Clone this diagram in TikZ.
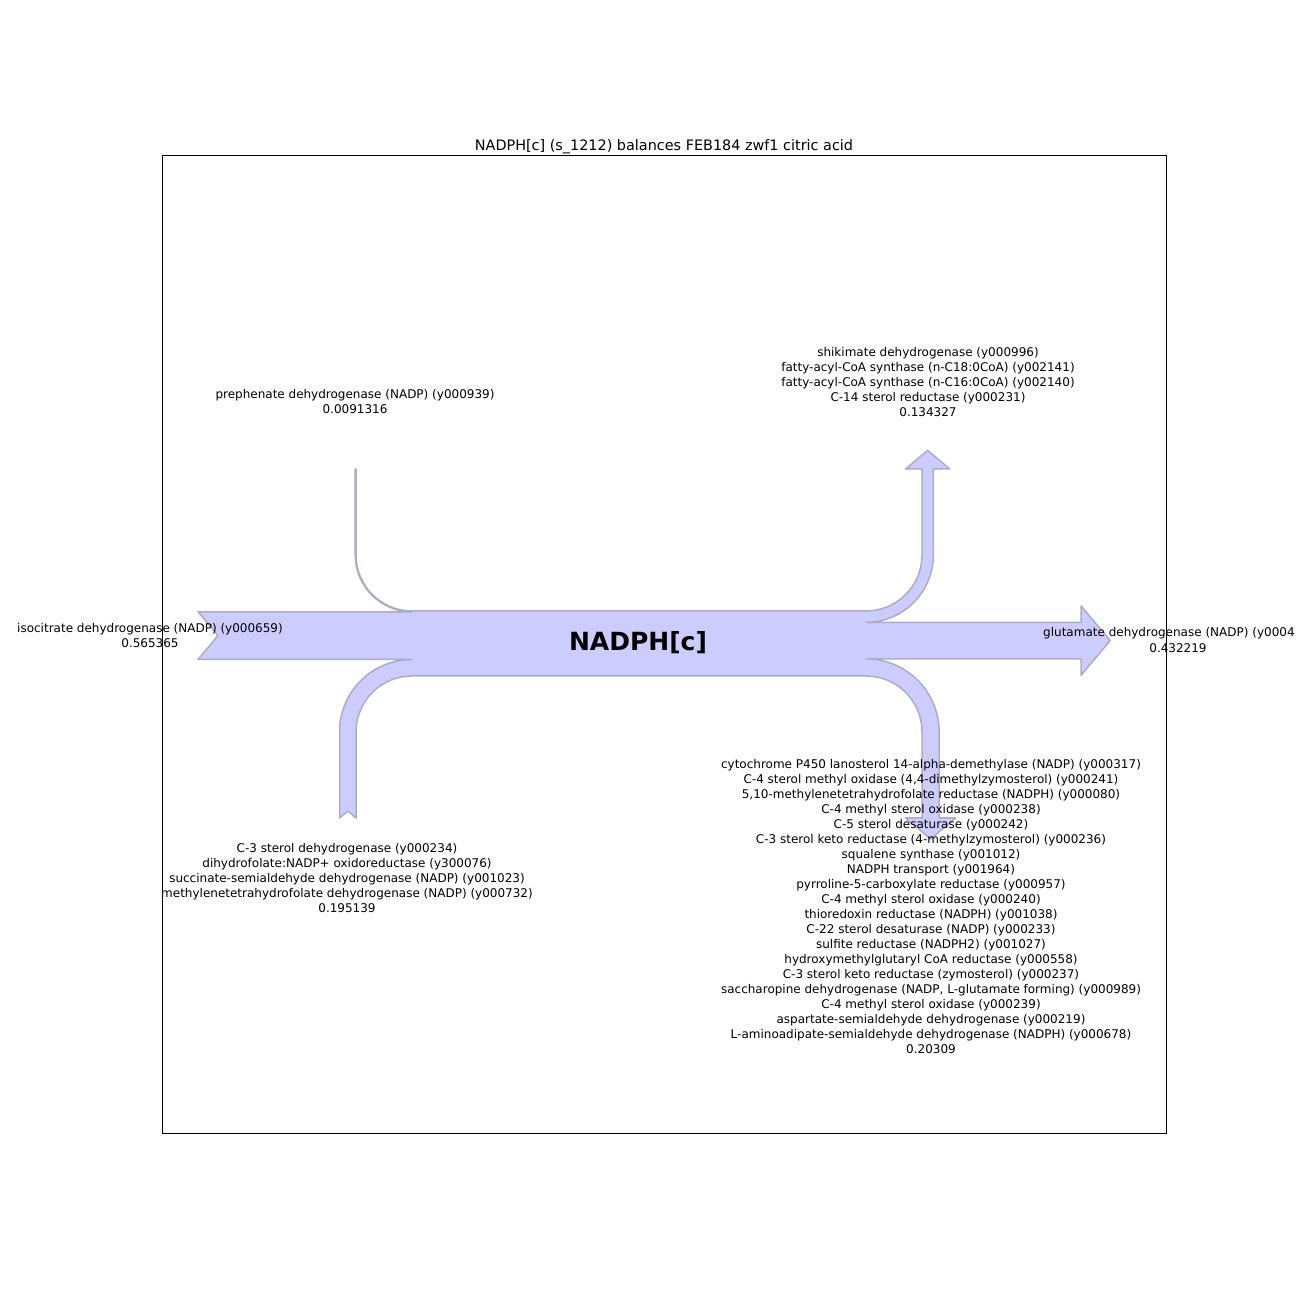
\documentclass[tikz,border=0pt]{standalone}
\usepackage{xcolor}
\usepackage{fontspec}
\setmainfont{DejaVu Sans}
\usepackage{tikz}

\definecolor{flowfill}{RGB}{204,204,255}
\definecolor{flowedge}{RGB}{172,172,198}
\tikzset{flowlabel/.style={align=center,inner sep=0pt,font=\fontsize{12}{15}\selectfont}}

\begin{document}
\begin{tikzpicture}[x=1pt,y=1pt]
\useasboundingbox (0,0) rectangle (1296,1296);
\draw[flowedge,fill=flowfill,line width=1.5pt,line join=round] (198,684.23) -- (412,684.23) arc(270:180:56.77) -- (355.23,827) -- (355.61,826.7) -- (356,827) -- (356,741) arc(180:270:56) -- (866,685) arc(270:360:56) -- (922,827) -- (905.5,827) -- (927.68,845.6) -- (949.85,827) -- (933.35,827) -- (933.35,741) arc(0:-90:67.35) -- (1081,673.65) -- (1081,690.15) -- (1110.2,655.4) -- (1081,620.65) -- (1081,637.15) -- (866,637.15) arc(90:0:73.15) -- (939.15,478) -- (955.7,478) -- (930.58,456.95) -- (905.45,478) -- (922,478) -- (922,564) arc(0:90:56) -- (412,620) arc(90:180:56) -- (356,478) -- (347.75,484.9) -- (339.5,478) -- (339.5,564) arc(180:90:72.5) -- (198,636.5) -- (218,660.37) -- cycle;
\node[inner sep=0pt,anchor=base,font=\fontsize{14.4}{18}\selectfont] (title) at (664,1145.5) {NADPH[c] (s\_1212) balances FEB184 zwf1 citric acid};
\node[inner sep=0pt,font=\fontsize{25}{30}\selectfont\bfseries] (met) at (638,653) {NADPH[c]};
\node[flowlabel] (isocit) at (150,660.5) {isocitrate dehydrogenase (NADP) (y000659)\\0.565365};
\node[flowlabel] (prephen) at (355,894.5) {prephenate dehydrogenase (NADP) (y000939)\\0.0091316};
\node[flowlabel] (shikim) at (928,914) {shikimate dehydrogenase (y000996)\\fatty-acyl-CoA synthase (n-C18:0CoA) (y002141)\\fatty-acyl-CoA synthase (n-C16:0CoA) (y002140)\\C-14 sterol reductase (y000231)\\0.134327};
\node[flowlabel,anchor=west] (glutname) at (1043,663) {glutamate dehydrogenase (NADP) (y0004};
\node[flowlabel] (glutflux) at (1178,648) {0.432219};
\node[flowlabel] (sterolin) at (347,418) {C-3 sterol dehydrogenase (y000234)\\dihydrofolate:NADP+ oxidoreductase (y300076)\\succinate-semialdehyde dehydrogenase (NADP) (y001023)\\methylenetetrahydrofolate dehydrogenase (NADP) (y000732)\\0.195139};
\node[flowlabel] (sterolout) at (931,389.5) {cytochrome P450 lanosterol 14-alpha-demethylase (NADP) (y000317)\\C-4 sterol methyl oxidase (4,4-dimethylzymosterol) (y000241)\\5,10-methylenetetrahydrofolate reductase (NADPH) (y000080)\\C-4 methyl sterol oxidase (y000238)\\C-5 sterol desaturase (y000242)\\C-3 sterol keto reductase (4-methylzymosterol) (y000236)\\squalene synthase (y001012)\\NADPH transport (y001964)\\pyrroline-5-carboxylate reductase (y000957)\\C-4 methyl sterol oxidase (y000240)\\thioredoxin reductase (NADPH) (y001038)\\C-22 sterol desaturase (NADP) (y000233)\\sulfite reductase (NADPH2) (y001027)\\hydroxymethylglutaryl CoA reductase (y000558)\\C-3 sterol keto reductase (zymosterol) (y000237)\\saccharopine dehydrogenase (NADP, L-glutamate forming) (y000989)\\C-4 methyl sterol oxidase (y000239)\\aspartate-semialdehyde dehydrogenase (y000219)\\L-aminoadipate-semialdehyde dehydrogenase (NADPH) (y000678)\\0.20309};
\draw[line width=1pt] (162,162) rectangle (1166,1140);
\end{tikzpicture}
\end{document}
